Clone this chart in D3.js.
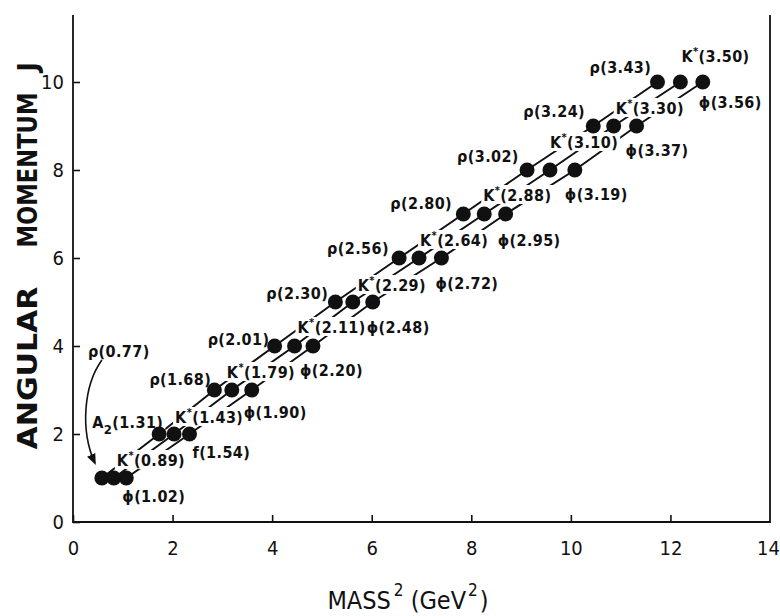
<!DOCTYPE html>
<html>
<head>
<meta charset="utf-8">
<script src="https://cdnjs.cloudflare.com/ajax/libs/d3/7.8.5/d3.min.js"></script>
<style>
  body { margin: 0; background: #fff; }
  svg { display: block; }
  .tick text { font-family: "Liberation Sans Narrow", "DejaVu Sans Condensed", sans-serif; font-size: 20px; fill: #111; }
  .lab { font-family: "DejaVu Sans Condensed", "DejaVu Sans", sans-serif; font-size: 16px; font-weight: bold; fill: #111; letter-spacing: 0.4px; }
</style>
</head>
<body>
<svg width="780" height="616"></svg>
<script>
const svg = d3.select("svg");

// angular momentum of each recurrence
const spins = [1, 2, 3, 4, 5, 6, 7, 8, 9, 10];

// rho / A2 trajectory
const rhoNames = ["ρ", "A2", "ρ", "ρ", "ρ", "ρ", "ρ", "ρ", "ρ", "ρ"];
const rhoMass = [0.77, 1.31, 1.68, 2.01, 2.30, 2.56, 2.80, 3.02, 3.24, 3.43];
const rhoMsq = [0.58, 1.73, 2.84, 4.05, 5.27, 6.55, 7.84, 9.12, 10.45, 11.74];

// K* trajectory
const kNames = ["K*", "K*", "K*", "K*", "K*", "K*", "K*", "K*", "K*", "K*"];
const kMass = [0.89, 1.43, 1.79, 2.11, 2.29, 2.64, 2.88, 3.10, 3.30, 3.50];
const kMsq = [0.82, 2.03, 3.19, 4.45, 5.62, 6.95, 8.26, 9.58, 10.86, 12.20];

// phi / f trajectory
const phiNames = ["ϕ", "f", "ϕ", "ϕ", "ϕ", "ϕ", "ϕ", "ϕ", "ϕ", "ϕ"];
const phiMass = [1.02, 1.54, 1.90, 2.20, 2.48, 2.72, 2.95, 3.19, 3.37, 3.56];
const phiMsq = [1.07, 2.34, 3.59, 4.82, 6.02, 7.40, 8.69, 10.08, 11.32, 12.65];

const xTicks = [0, 2, 4, 6, 8, 10, 12, 14];
const yTicks = [0, 2, 4, 6, 8, 10];

// label placement (pixel offset of text start/baseline from its dot)
const rhoLabOff = [[-14, -121], [-67, -6], [-65, -5], [-67, -1], [-69, -3], [-72, -4], [-73, -5], [-70, -8], [-70, -9], [-68, -9]];
const kLabOff = [[3, -12], [1, -11], [-5, -12], [3, -13], [5, -11], [1, -12], [-1, -13], [0, -22], [2, -12], [1, -20]];
const phiLabOff = [[-4, 24], [3, 24], [-8, 28], [-13, 30], [-6, 31], [-6, 31], [-8, 32], [-10, 30], [-11, 30], [-4, 26]];

const x = d3.scaleLinear().domain([0, 14]).range([73, 770]);
const y = d3.scaleLinear().domain([0, 10]).range([522, 82]);
const yTop = 15;

// frame: left axis, bottom axis, right edge (no top edge)
svg.append("path")
  .attr("d", `M${x(0)},${yTop}V${y(0)}H${x(14)}V${yTop}`)
  .attr("fill", "none").attr("stroke", "#111").attr("stroke-width", 1.8);

const gx = svg.append("g").attr("transform", `translate(0,${y(0)})`)
  .call(d3.axisBottom(x).tickValues(xTicks).tickSize(-7).tickPadding(19).tickFormat(d3.format("d")));
const gy = svg.append("g").attr("transform", `translate(${x(0)},0)`)
  .call(d3.axisLeft(y).tickValues(yTicks).tickSize(-7).tickPadding(9).tickFormat(d3.format("d")));
[gx, gy].forEach(g => {
  g.select(".domain").remove();
  g.selectAll(".tick line").attr("stroke", "#111").attr("stroke-width", 1.6);
});
gx.selectAll(".tick").filter(d => d === 14).select("line").remove();
gx.selectAll(".tick").filter(d => d === 14).select("text").attr("x", -2);

// axis titles
const xt = svg.append("text")
  .attr("x", 408).attr("y", 609)
  .attr("text-anchor", "middle")
  .style("font-family", "\"Liberation Sans Narrow\", \"DejaVu Sans Condensed\", sans-serif")
  .style("font-size", "25px").attr("fill", "#111");
xt.append("tspan").text("MASS");
xt.append("tspan").text("2").attr("dy", -13).attr("dx", 3).style("font-size", "17px");
xt.append("tspan").text(" (GeV").attr("dy", 13);
xt.append("tspan").text("2").attr("dy", -13).attr("dx", 2).style("font-size", "17px");
xt.append("tspan").text(")").attr("dy", 13).attr("dx", 2);

const yWords = [["ANGULAR", 368, 163], ["MOMENTUM", 170, 155], ["J", 67, 0]];
yWords.forEach(([w, cy, len]) => {
  const t = svg.append("text")
    .attr("transform", `translate(37,${cy}) rotate(-90)`)
    .attr("text-anchor", "middle")
    .style("font-family", "\"DejaVu Sans\", sans-serif")
    .style("font-size", "26px").style("font-weight", "bold")
    .attr("fill", "#111")
    .text(w);
  if (len) t.attr("textLength", len).attr("lengthAdjust", "spacingAndGlyphs");
});

// build the three trajectories
const traj = [
  { names: rhoNames, mass: rhoMass, msq: rhoMsq, off: rhoLabOff },
  { names: kNames, mass: kMass, msq: kMsq, off: kLabOff },
  { names: phiNames, mass: phiMass, msq: phiMsq, off: phiLabOff }
].map(t => spins.map((j, i) => ({ j, m2: t.msq[i], name: t.names[i], mass: t.mass[i], off: t.off[i] })));

const line = d3.line().x(d => x(d.m2)).y(d => y(d.j));
svg.append("g").selectAll("path").data(traj).join("path")
  .attr("d", line).attr("fill", "none").attr("stroke", "#111").attr("stroke-width", 2);

// labels with white backing so they interrupt the lines
const labG = svg.append("g");
traj.flat().forEach(d => {
  const g = labG.append("g");
  const t = g.append("text").attr("class", "lab")
    .attr("x", x(d.m2) + d.off[0]).attr("y", y(d.j) + d.off[1]);
  if (d.name === "A2") {
    t.append("tspan").text("A");
    t.append("tspan").text("2").attr("dy", 6).style("font-size", "13px");
    t.append("tspan").text(`(${d.mass.toFixed(2)})`).attr("dy", -6);
  } else if (d.name === "K*") {
    t.append("tspan").text("K");
    t.append("tspan").text("*").attr("dy", -7).style("font-size", "11px");
    t.append("tspan").text(`(${d.mass.toFixed(2)})`).attr("dy", 7);
  } else {
    t.text(`${d.name}(${d.mass.toFixed(2)})`);
  }
  const b = t.node().getBBox();
  g.insert("rect", "text")
    .attr("x", b.x - 2).attr("y", b.y + 1).attr("width", b.width + 4).attr("height", b.height - 2)
    .attr("fill", "#fff");
});

// curved arrow from rho(0.77) label to its point
svg.append("defs").append("marker")
  .attr("id", "ah").attr("viewBox", "0 0 10 10").attr("refX", 8).attr("refY", 5)
  .attr("markerWidth", 7).attr("markerHeight", 7).attr("orient", "auto")
  .append("path").attr("d", "M0,1L10,5L0,9Z").attr("fill", "#111");
const r0 = traj[0][0];
const ax = x(r0.m2), ay = y(r0.j);
svg.append("path")
  .attr("d", `M${ax},${ay - 118}C${ax - 18},${ay - 93} ${ax - 22},${ay - 48} ${ax - 7},${ay - 15}`)
  .attr("fill", "none").attr("stroke", "#111").attr("stroke-width", 1.6)
  .attr("marker-end", "url(#ah)");

// dots on top
svg.append("g").selectAll("circle").data(traj.flat()).join("circle")
  .attr("cx", d => x(d.m2)).attr("cy", d => y(d.j)).attr("r", 7.5)
  .attr("fill", "#111");
</script>
</body>
</html>
